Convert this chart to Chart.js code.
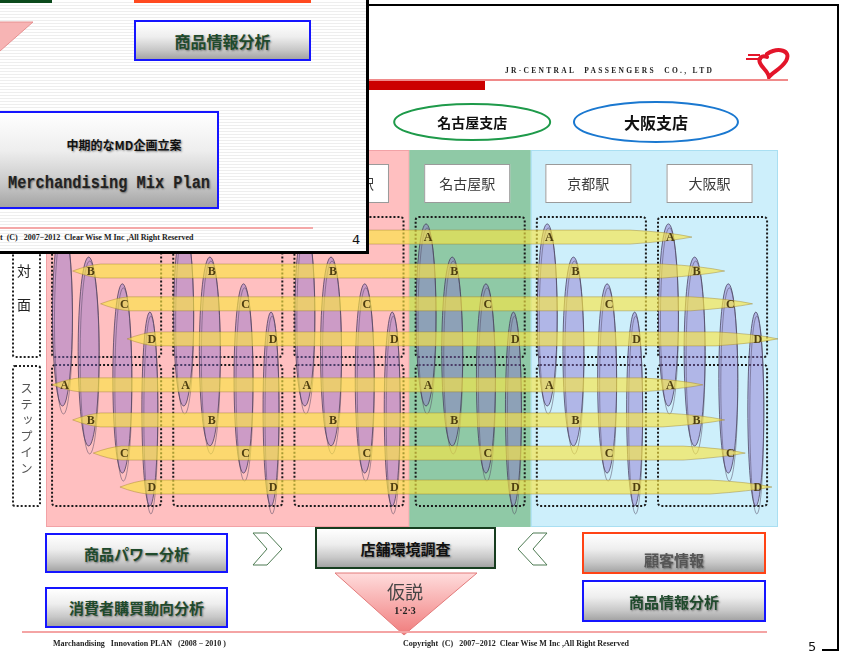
<!DOCTYPE html>
<html>
<head>
<meta charset="utf-8">
<script src="https://cdn.jsdelivr.net/npm/chart.js@4.4.1/dist/chart.umd.min.js"></script>
<style>
  body { margin:0; width:845px; height:656px; position:relative; overflow:hidden; background:#fff;
         font-family:"Noto Sans CJK JP", sans-serif; }
  #c { position:absolute; left:0; top:0; }
  .a { position:absolute; }
  .btn { position:absolute; box-sizing:border-box; display:flex; align-items:center; justify-content:center;
         background:linear-gradient(#ffffff 0%, #eeeeee 40%, #c8c8c8 75%, #a4a4a4 100%);
         font-weight:700; font-size:15px; color:#1f4a2c; text-shadow:1px 1px 2px rgba(0,0,0,.45); }
  .blue { border:2px solid #1515ff; }
  .tiny { font-family:"Liberation Serif", serif; font-weight:700; font-size:8px; color:#222; white-space:pre; }
  .dots { position:absolute; box-sizing:border-box; border:2px dotted #222; border-radius:3px; }
</style>
</head>
<body>
<canvas id="c" width="845" height="656"></canvas>

<!-- slide 5 frame and header -->
<div class="a" style="left:368px;top:4px;width:471px;height:2px;background:#000"></div>
<div class="a" style="left:837px;top:4px;width:2px;height:647px;background:#000"></div>
<div class="a" style="left:822px;top:649px;width:17px;height:2px;background:#000"></div>
<div class="a" style="left:808px;top:639px;font-size:13px;color:#111;font-family:'DejaVu Sans',sans-serif">5</div>
<div class="a tiny" style="left:505px;top:66px;font-size:7.5px;letter-spacing:2.3px">JR-CENTRAL  PASSENGERS  CO., LTD</div>
<svg class="a" style="left:740px;top:44px" width="56" height="36">
  <path d="M8 11 h12 M6 15 h16" stroke="#e3152a" stroke-width="2"/>
  <path d="M27 10 C38 3 52 6 46 17 C41 25 33 28 29 33 C28 27 22 24 20 19 C18 14 22 11 27 13" fill="none" stroke="#e3152a" stroke-width="4" stroke-linecap="round"/>
</svg>
<div class="a" style="left:368px;top:79px;width:420px;height:1.5px;background:#f08a8a"></div>
<div class="a" style="left:368px;top:81px;width:117px;height:9px;background:#cc0000"></div>

<!-- left row labels -->
<div class="dots" style="left:12px;top:217px;width:29px;height:141px"></div>
<div class="a" style="left:17px;top:260px;font-size:14px;color:#222">対</div>
<div class="a" style="left:17px;top:294px;font-size:14px;color:#222">面</div>
<div class="dots" style="left:12px;top:365px;width:29px;height:142px"></div>
<div class="a" style="left:17px;top:382px;font-size:12.5px;color:#555;writing-mode:vertical-rl;letter-spacing:3.5px">ステップイン</div>

<!-- bottom flow -->
<div class="btn blue" style="left:45px;top:533px;width:183px;height:40px">商品パワー分析</div>
<div class="btn blue" style="left:45px;top:587px;width:183px;height:41px">消費者購買動向分析</div>
<div class="btn" style="left:315px;top:527px;width:181px;height:42px;border:2px solid #173d1f;color:#111">店舗環境調査</div>
<div class="btn" style="left:582px;top:532px;width:184px;height:42px;border:2px solid #ff4315;color:#555;align-items:flex-end;padding-bottom:2px">顧客情報</div>
<div class="btn blue" style="left:582px;top:580px;width:184px;height:42px">商品情報分析</div>
<svg class="a" style="left:0;top:520px" width="845" height="120">
  <defs>
    <linearGradient id="tri" x1="0" y1="0" x2="0" y2="1">
      <stop offset="0" stop-color="#ffdcdc"/><stop offset="1" stop-color="#f07c7c"/>
    </linearGradient>
  </defs>
  <polygon points="253,13 267,13 282,29 267,45 253,45 267,29" fill="#fff" stroke="#4d7a52" stroke-width="1"/>
  <polygon points="547,13 533,13 518,29 533,45 547,45 533,29" fill="#fff" stroke="#4d7a52" stroke-width="1"/>
  <polygon points="335,53 477,53 404,115" fill="url(#tri)" stroke="#e27a7a" stroke-width="1"/>
</svg>
<div class="a" style="left:380px;top:578px;width:50px;text-align:center;font-size:18px;color:#444;font-family:'Noto Sans CJK JP'">仮説</div>
<div class="a" style="left:380px;top:605px;width:50px;text-align:center;font-size:10px;font-weight:700;color:#222;font-family:'Liberation Serif',serif">1·2·3</div>
<div class="a" style="left:22px;top:631px;width:745px;height:2px;background:#f4a4a4"></div>
<div class="a tiny" style="left:53px;top:639px">Marchandising   Innovation PLAN   (2008 − 2010 )</div>
<div class="a tiny" style="left:403px;top:639px">Copyright  (C)   2007−2012  Clear Wise M Inc ,All Right Reserved</div>

<!-- slide 4 lying on top -->
<div class="a" style="left:0;top:0;width:366px;height:251px;border-right:3px solid #000;border-bottom:3px solid #000;
     background:repeating-linear-gradient(#ffffff 0 2px, #eeeeee 2px 3px);overflow:hidden;z-index:2">
  <div class="a" style="left:0;top:0;width:52px;height:3px;background:#0b4a1c"></div>
  <div class="a" style="left:134px;top:0;width:177px;height:3px;background:#ff4a20"></div>
  <svg class="a" style="left:0;top:20px" width="40" height="34">
    <polygon points="-10,2 33,2 0,31" fill="#f7b4b4" stroke="#e59090" stroke-width="1"/>
  </svg>
  <div class="btn blue" style="left:134px;top:20px;width:177px;height:41px;font-size:16px">商品情報分析</div>
  <div class="btn blue" style="left:-3px;top:111px;width:222px;height:98px;display:block">
    <div class="a" style="left:0;top:23px;width:250px;text-align:center;font-size:12px;color:#111">中期的なMD企画立案</div>
    <div class="a" style="left:9px;top:60px;font-family:'Liberation Mono',monospace;font-weight:700;font-size:18px;color:#222;white-space:pre;transform:scaleX(0.85);transform-origin:0 50%">Merchandising Mix Plan</div>
  </div>
  <div class="a" style="left:0;top:227px;width:313px;height:2px;background:#f4a8a8"></div>
  <div class="a tiny" style="left:0;top:233px">t  (C)   2007−2012  Clear Wise M Inc ,All Right Reserved</div>
  <div class="a" style="left:352px;top:232px;font-size:13px;color:#111;font-family:'DejaVu Sans',sans-serif">4</div>
</div>

<script>
// stations along the x scale, grouped into branches
const stations = ['東京駅', '品川駅', '新横浜駅', '名古屋駅', '京都駅', '大阪駅'];
const branches = ['東京支店', '名古屋支店', '大阪支店'];
const branchFirst = [0, 3, 4];
const branchLast = [2, 3, 5];

// customer segments and the two store types
const letters = ['A', 'B', 'C', 'D'];
const sections = ['対面', 'ステップイン'];

// horizontal reach of each segment, in stations
const faceStart = [0.02, 0.22, 0.45, 0.67];
const faceEnd = [5.33, 5.60, 5.83, 6.04];
const stepStart = [0.05, 0.22, 0.39, 0.61];
const stepEnd = [5.42, 5.60, 5.77, 5.99];

// vertical depth of each segment inside a station (0 = top, 100 = bottom)
const ovalTop = [19.6, 28.4, 35.5, 43.0];
const ovalBottom = [67.9, 78.5, 85.7, 94.4];

const look = {
  panel: ['#ffbfc0', '#8fc9a6', '#cdeffb'],
  panelEdge: ['#f2a2a6', '#8fc9a6', '#a9dff2'],
  branchRing: ['#e0506a', '#1e9a4a', '#1a78d0'],
  branchFont: [15, 14, 16],
  branchRx: [80, 78, 82],
  rows: [[23.1, 32.1, 40.8, 50.1], [62.3, 71.6, 80.4, 89.4]],
  boxes: [[17.8, 54.9], [57.0, 94.4]],
  ovalAt: [0.136, 0.352, 0.63, 0.857],
  ovalW: [20, 21, 19, 16]
};

function spindle(ctx, x0, x1, y, h) {
  const tl = 28, tr = 62;
  ctx.beginPath();
  ctx.moveTo(x0, y);
  ctx.quadraticCurveTo(x0 + tl * 0.55, y - h * 0.42, x0 + tl, y - h / 2);
  ctx.lineTo(x1 - tr, y - h / 2);
  ctx.quadraticCurveTo(x1 - tr * 0.35, y - h * 0.35, x1, y);
  ctx.quadraticCurveTo(x1 - tr * 0.35, y + h * 0.3, x1 - tr, y + h / 2);
  ctx.lineTo(x0 + tl, y + h / 2);
  ctx.quadraticCurveTo(x0 + tl * 0.55, y + h * 0.42, x0, y);
  ctx.closePath();
}

const diagram = {
  id: 'diagram',
  beforeDatasetsDraw(chart) {
    const { ctx, chartArea: a, scales } = chart;
    const X = v => scales.x.getPixelForValue(v);
    const Y = v => scales.y.getPixelForValue(v);
    ctx.save();

    // branch panels and their names
    branches.forEach((name, i) => {
      const x0 = X(branchFirst[i]);
      const x1 = i === branches.length - 1 ? a.right : X(branchLast[i] + 1);
      ctx.fillStyle = look.panel[i];
      ctx.fillRect(x0, a.top, x1 - x0, a.bottom - a.top);
      ctx.strokeStyle = look.panelEdge[i];
      ctx.lineWidth = 1;
      ctx.strokeRect(x0 + 0.5, a.top + 0.5, x1 - x0 - 1, a.bottom - a.top - 1);

      const cx = (X(branchFirst[i]) + X(branchLast[i] + 1)) / 2 + (i === 2 ? 4 : 2);
      const cy = a.top - 28;
      ctx.beginPath();
      ctx.ellipse(cx, cy, look.branchRx[i], 18 + (i === 2 ? 2 : 0), 0, 0, Math.PI * 2);
      ctx.strokeStyle = look.branchRing[i];
      ctx.lineWidth = 2;
      ctx.stroke();
      ctx.fillStyle = '#111';
      ctx.font = 'bold ' + look.branchFont[i] + 'px "Noto Sans CJK JP"';
      ctx.textAlign = 'center';
      ctx.textBaseline = 'middle';
      ctx.fillText(name, cx, cy + 1);
    });

    // station name boxes and dotted store boxes
    stations.forEach((name, i) => {
      const cx = X(i + 0.5) - 3;
      ctx.fillStyle = '#fff';
      ctx.fillRect(cx - 43, a.top + 14, 86, 39);
      ctx.strokeStyle = '#9a9a9a';
      ctx.lineWidth = 1;
      ctx.strokeRect(cx - 42.5, a.top + 14.5, 85, 38);
      ctx.fillStyle = '#3a3a3a';
      ctx.font = '14px "Noto Sans CJK JP"';
      ctx.textAlign = 'center';
      ctx.textBaseline = 'middle';
      ctx.fillText(name, cx, a.top + 34);

      ctx.setLineDash([2, 2]);
      ctx.lineWidth = 2;
      ctx.strokeStyle = '#1a1a1a';
      look.boxes.forEach(b => {
        ctx.beginPath();
        ctx.roundRect(X(i + 0.05), Y(b[0]), X(i + 0.95) - X(i + 0.05), Y(b[1]) - Y(b[0]), 3);
        ctx.stroke();
      });
      ctx.setLineDash([]);
    });

    // vertical segment ovals
    stations.forEach((s, i) => {
      letters.forEach((l, k) => {
        const cx = X(i + look.ovalAt[k]);
        const t = Y(ovalTop[k]), b = Y(ovalBottom[k]);
        const rx = look.ovalW[k] / 2;
        ctx.beginPath();
        ctx.ellipse(cx, (t + b) / 2, rx, (b - t) / 2, 0, 0, Math.PI * 2);
        ctx.fillStyle = 'rgba(140,110,205,0.44)';
        ctx.fill();
        ctx.strokeStyle = 'rgba(60,50,80,0.7)';
        ctx.lineWidth = 1;
        ctx.stroke();
        ctx.beginPath();
        ctx.ellipse(cx + 1, (t + b) / 2 + 6, rx - 1, (b - t) / 2 + 2, 0, 0, Math.PI * 2);
        ctx.strokeStyle = 'rgba(80,70,95,0.5)';
        ctx.stroke();
      });
    });

    // horizontal segment spindles
    [[faceStart, faceEnd], [stepStart, stepEnd]].forEach((pair, s) => {
      letters.forEach((l, k) => {
        spindle(ctx, X(pair[0][k]), X(pair[1][k]), Y(look.rows[s][k]), 14);
        ctx.fillStyle = 'rgba(250,230,66,0.64)';
        ctx.fill();
        ctx.strokeStyle = 'rgba(150,120,40,0.5)';
        ctx.lineWidth = 0.8;
        ctx.stroke();
      });
    });

    // segment letters where a row meets its oval
    ctx.font = 'bold 12px "Liberation Serif"';
    ctx.fillStyle = '#4e3e10';
    ctx.textAlign = 'center';
    ctx.textBaseline = 'middle';
    stations.forEach((st, i) => {
      sections.forEach((sec, s) => {
        letters.forEach((l, k) => {
          ctx.fillText(l, X(i + look.ovalAt[k]) + 2, Y(look.rows[s][k]) + 1);
        });
      });
    });
    ctx.restore();
  }
};

new Chart(document.getElementById('c'), {
  type: 'scatter',
  data: { datasets: [] },
  options: {
    responsive: false,
    animation: false,
    layout: { padding: { left: 46, right: 67, top: 150, bottom: 129 } },
    plugins: { legend: { display: false }, tooltip: { enabled: false } },
    scales: {
      x: { type: 'linear', min: 0, max: 6.04, display: false },
      y: { type: 'linear', min: 0, max: 100, reverse: true, display: false }
    }
  },
  plugins: [diagram]
});
</script>
</body>
</html>
